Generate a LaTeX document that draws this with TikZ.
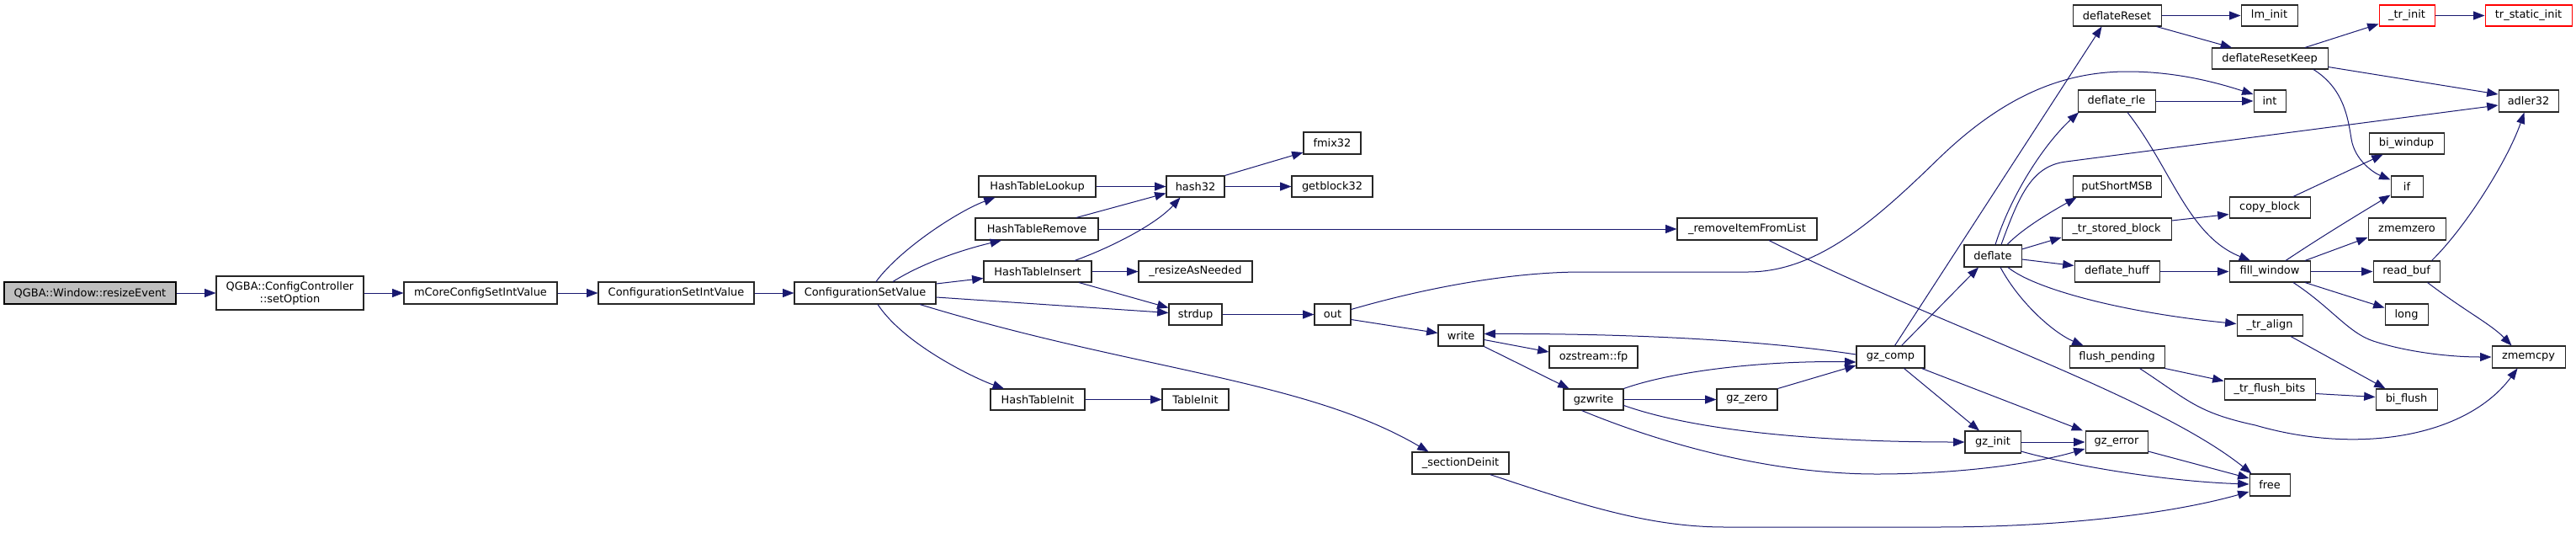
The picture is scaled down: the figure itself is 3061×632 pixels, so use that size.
\documentclass[tikz,border=0pt]{standalone}
\usepackage{fontspec}
\setmainfont{DejaVu Sans}
\usetikzlibrary{arrows.meta,calc}
\definecolor{edgec}{HTML}{191970}
\definecolor{rootfill}{HTML}{BFBFBF}
\tikzset{
 box/.style={draw=black!85, line width=0.8pt, fill=white, inner sep=0pt, font=\fontsize{9.7pt}{11.3pt}\selectfont, text=black, align=center},
 rootbox/.style={fill=rootfill, draw=black},
 trunc/.style={draw=red},
 edge/.style={draw=edgec, line width=0.75pt, -{Triangle[length=10pt,width=7.5pt]}},
}
\newcommand\nd[7][]{\node[box,#1,minimum width={(#5-#3)*0.75pt},minimum height={(#6-#4)*0.75pt}] (#2) at ({(#3+#5)/2},{(#4+#6)/2}) {#7};}
\begin{document}
\begin{tikzpicture}[x=0.75pt,y=-0.75pt]
\useasboundingbox[fill=white] (0,0) rectangle (3061,632);
% nodes
\nd[rootbox]{re}{5}{335}{209}{361}{QGBA::Window::resizeEvent}
\nd{so}{257}{328}{432}{368}{QGBA::ConfigController\\::setOption}
\nd{mc}{480}{335}{662}{361}{mCoreConfigSetIntValue}
\nd{csiv}{711}{335}{896}{361}{ConfigurationSetIntValue}
\nd{csv}{944}{335}{1112}{361}{ConfigurationSetValue}
\nd{htl}{1163}{209}{1302}{234}{HashTableLookup}
\nd{htr}{1159}{259}{1305}{285}{HashTableRemove}
\nd{hti}{1169}{310}{1297}{335}{HashTableInsert}
\nd{htinit}{1177}{462}{1289}{487}{HashTableInit}
\nd{hash}{1386}{209}{1455}{234}{hash32}
\nd{fmix}{1549}{157}{1617}{183}{fmix32}
\nd{getb}{1535}{209}{1631}{234}{getblock32}
\nd{ran}{1353}{310}{1488}{335}{\_resizeAsNeeded}
\nd{strdup}{1389}{361}{1452}{386}{strdup}
\nd{tinit}{1381}{462}{1460}{487}{TableInit}
\nd{out}{1562}{361}{1605}{386}{out}
\nd{secd}{1678}{537}{1793}{563}{\_sectionDeinit}
\nd{rifl}{1993}{259}{2159}{285}{\_removeItemFromList}
\nd{write}{1709}{386}{1763}{411}{write}
\nd{fp}{1841}{411}{1946}{437}{ozstream::fp}
\nd{gzw}{1858}{462}{1929}{487}{gzwrite}
\nd{gzz}{2040}{462}{2112}{487}{gz\_zero}
\nd{gzc}{2206}{411}{2287}{437}{gz\_comp}
\nd{gzi}{2335}{512}{2401}{538}{gz\_init}
\nd{gze}{2478}{512}{2552}{538}{gz\_error}
\nd{free}{2673}{563}{2721}{589}{free}
\nd{defl}{2334}{291}{2402}{317}{deflate}
\nd{dr}{2463}{6}{2568}{31}{deflateReset}
\nd{lmi}{2663}{6}{2730}{31}{lm\_init}
\nd[trunc]{tri}{2827}{6}{2893}{31}{\_tr\_init}
\nd[trunc]{tsi}{2953}{6}{3056}{31}{tr\_static\_init}
\nd{drk}{2628}{57}{2766}{82}{deflateResetKeep}
\nd{drle}{2469}{107}{2561}{133}{deflate\_rle}
\nd{nint}{2678}{107}{2716}{133}{int}
\nd{adl}{2969}{107}{3040}{133}{adler32}
\nd{biw}{2815}{158}{2904}{183}{bi\_windup}
\nd{nif}{2841}{209}{2879}{234}{if}
\nd{psm}{2463}{209}{2568}{234}{putShortMSB}
\nd{cpb}{2649}{234}{2745}{259}{copy\_block}
\nd{tsb}{2450}{259}{2580}{285}{\_tr\_stored\_block}
\nd{zmz}{2814}{259}{2906}{285}{zmemzero}
\nd{dhf}{2465}{310}{2566}{335}{deflate\_huff}
\nd{fw}{2649}{310}{2745}{335}{fill\_window}
\nd{rb}{2820}{310}{2899}{335}{read\_buf}
\nd{nlong}{2834}{361}{2885}{386}{long}
\nd{tal}{2658}{374}{2736}{399}{\_tr\_align}
\nd{zmc}{2961}{411}{3048}{437}{zmemcpy}
\nd{flp}{2459}{411}{2572}{437}{flush\_pending}
\nd{tfb}{2643}{450}{2751}{475}{\_tr\_flush\_bits}
\nd{bif}{2823}{462}{2896}{487}{bi\_flush}
% edges
\draw[edge] (re) -- (so);
\draw[edge] (so) -- (mc);
\draw[edge] (mc) -- (csiv);
\draw[edge] (csiv) -- (csv);
\draw[edge] ($(csv.north)+(13,0)$) .. controls (1070,295) and (1140,250) .. ($(htl.south)+(-50,0)$);
\draw[edge] ($(csv.north)+(33,0)$) .. controls (1100,310) and (1150,295) .. ($(htr.south)+(-42,0)$);
\draw[edge] ($(csv.east)+(0,-11)$) -- ($(hti.west)+(0,8)$);
\draw[edge] ($(csv.east)+(0,5)$) -- ($(strdup.west)+(0,-2)$);
\draw[edge] ($(csv.south)+(15,0)$) .. controls (1075,410) and (1160,450) .. ($(htinit.north)+(-40,0)$);
\draw[edge] ($(csv.south)+(65,0)$) .. controls (1350,440) and (1550,450) .. ($(secd.north)+(-38,0)$);
\draw[edge] (htl) -- (hash);
\draw[edge] ($(htr.north)+(47,0)$) -- ($(hash.west)+(0,8)$);
\draw[edge] (htr) -- (rifl);
\draw[edge] ($(hti.north)+(44,0)$) .. controls (1325,292) and (1375,265) .. ($(hash.south)+(-18,0)$);
\draw[edge] (hti) -- (ran);
\draw[edge] ($(hti.south)+(49,0)$) -- ($(strdup.west)+(0,-8)$);
\draw[edge] (hash.north east) -- ($(fmix.west)+(0,11)$);
\draw[edge] (hash) -- (getb);
\draw[edge] (htinit) -- (tinit);
\draw[edge] (strdup) -- (out);
\draw[edge] ($(out.east)+(0,-6)$) .. controls (1700,340) and (1800,323) .. (1880,323) -- (2077,323) .. controls (2160,323) and (2230,260) .. (2305,187) .. controls (2380,115) and (2450,85) .. (2528,85) .. controls (2590,85) and (2640,100) .. ($(nint.west)+(0,-8)$);
\draw[edge] ($(out.east)+(0,6)$) -- ($(write.west)+(0,-3)$);
\draw[edge] ($(rifl.south)+(26,0)$) .. controls (2300,385) and (2560,470) .. ($(free.north west)+(3,0)$);
\draw[edge] ($(secd.south)+(35,0)$) .. controls (1880,600) and (1960,626) .. (2050,626) -- (2300,626) .. controls (2450,626) and (2580,610) .. ($(free.west)+(0,8)$);
\draw[edge] ($(write.east)+(0,5)$) -- ($(fp.west)+(0,-6)$);
\draw[edge] (write.south east) -- ($(gzw.north)+(-29,0)$);
\draw[edge] ($(gzc.west)+(0,-3)$) .. controls (2100,405) and (1950,396) .. ($(write.east)+(0,-2)$);
\draw[edge] (gzw.north east) .. controls (1990,440) and (2100,428) .. ($(gzc.west)+(0,6)$);
\draw[edge] (gzw) -- (gzz);
\draw[edge] ($(gzw.east)+(0,7)$) .. controls (2010,510) and (2150,525) .. (gzi.west);
\draw[edge] ($(gzw.south)+(-14,0)$) .. controls (1970,525) and (2100,563) .. (2230,563) .. controls (2330,563) and (2420,550) .. ($(gze.west)+(0,8)$);
\draw[edge] (gzz.north east) -- ($(gzc.west)+(0,10)$);
\draw[edge] ($(gzc.north)+(13,0)$) -- ($(defl.south)+(-17,0)$);
\draw[edge] ($(gzc.north)+(5,0)$) -- ($(dr.south)+(-18,0)$);
\draw[edge] ($(gzc.south)+(16,0)$) -- ($(gzi.north)+(-16,0)$);
\draw[edge] ($(gzc.south east)+(-4,0)$) -- ($(gze.north)+(-40,0)$);
\draw[edge] (gzi) -- (gze);
\draw[edge] ($(gzi.east)+(0,11)$) .. controls (2470,555) and (2580,572) .. ($(free.west)+(0,-1)$);
\draw[edge] ($(gze.east)+(0,11)$) -- ($(free.west)+(0,-8)$);
\draw[edge] (dr) -- (lmi);
\draw[edge] ($(dr.south east)+(-6,0)$) -- ($(drk.north)+(-45,0)$);
\draw[edge] ($(drk.north)+(42,0)$) -- ($(tri.west)+(0,10)$);
\draw[edge] ($(drk.east)+(0,10)$) -- ($(adl.west)+(0,-8)$);
\draw[edge] ($(drk.south)+(52,0)$) .. controls (2785,105) and (2790,140) .. (2794,165) .. controls (2798,190) and (2820,205) .. ($(nif.west)+(0,-8)$);
\draw[edge] (tri) -- (tsi);
\draw[edge] ($(defl.north)+(3,0)$) .. controls (2390,230) and (2430,170) .. ($(drle.south)+(-45,0)$);
\draw[edge] ($(defl.north)+(10,0)$) .. controls (2400,230) and (2415,197) .. (2455,192) -- ($(adl.west)+(0,5)$);
\draw[edge] ($(defl.north)+(17,0)$) .. controls (2405,270) and (2440,250) .. ($(psm.south)+(-48,0)$);
\draw[edge] ($(defl.east)+(0,-8)$) -- ($(tsb.west)+(0,10)$);
\draw[edge] ($(defl.east)+(0,4)$) -- ($(dhf.west)+(0,-7)$);
\draw[edge] ($(defl.south)+(18,0)$) .. controls (2420,345) and (2530,372) .. ($(tal.west)+(0,-2)$);
\draw[edge] ($(defl.south)+(9,0)$) .. controls (2400,360) and (2440,395) .. ($(flp.north)+(-40,0)$);
\draw[edge] (drle) -- (nint);
\draw[edge] ($(drle.south)+(13,0)$) .. controls (2580,200) and (2600,280) .. ($(fw.north)+(-23,0)$);
\draw[edge] ($(tsb.east)+(0,-10)$) -- ($(cpb.west)+(0,8)$);
\draw[edge] ($(cpb.north)+(28,0)$) -- ($(biw.south)+(-28,0)$);
\draw[edge] (dhf) -- (fw);
\draw[edge] ($(fw.north)+(19,0)$) .. controls (2760,280) and (2810,250) .. ($(nif.south west)+(0,-3)$);
\draw[edge] ($(fw.north)+(42,0)$) -- ($(zmz.west)+(0,10)$);
\draw[edge] (fw) -- (rb);
\draw[edge] ($(fw.south)+(42,0)$) -- ($(nlong.west)+(0,-8)$);
\draw[edge] ($(fw.south)+(28,0)$) .. controls (2770,365) and (2790,395) .. (2820,405) .. controls (2860,418) and (2910,424) .. (zmc.west);
\draw[edge] ($(rb.north)+(30,0)$) .. controls (2930,270) and (2980,190) .. ($(adl.south)+(-5,0)$);
\draw[edge] ($(rb.south)+(25,0)$) .. controls (2930,370) and (2960,385) .. ($(zmc.north)+(-20,0)$);
\draw[edge] ($(tal.south)+(25,0)$) -- ($(bif.north)+(-25,0)$);
\draw[edge] (flp.south east) -- ($(tfb.west)+(0,-10)$);
\draw[edge] ($(flp.south)+(27,0)$) .. controls (2600,475) and (2610,490) .. (2680,505) .. controls (2800,540) and (2930,520) .. ($(zmc.south)+(-13,0)$);
\draw[edge] ($(tfb.east)+(0,5)$) -- ($(bif.west)+(0,-3)$);
\end{tikzpicture}
\end{document}
